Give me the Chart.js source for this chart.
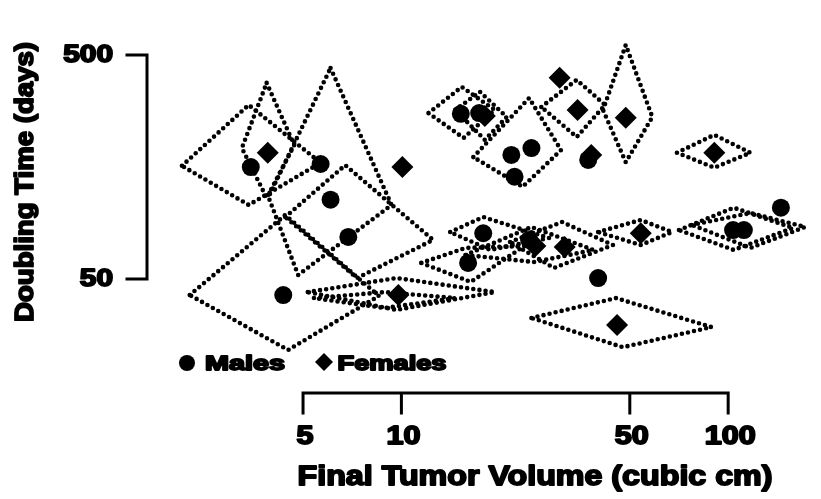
<!DOCTYPE html>
<html>
<head>
<meta charset="utf-8">
<script src="https://cdn.jsdelivr.net/npm/chart.js@4.4.1/dist/chart.umd.min.js"></script>
<style>
  body { margin: 0; background: #fff; }
  #wrap { width: 821px; height: 499px; position: relative; }
</style>
</head>
<body>
<div id="wrap"><canvas id="myChart"></canvas></div>
<script>
// final tumor volume (cubic cm) and doubling time (days)
var maleVol = [3.46, 5.66, 6.07, 6.88, 4.35, 15.2, 17.3, 21.7, 25.0, 22.2, 37.3, 17.8, 16.0, 24.6, 40.0, 103.5, 111.7, 145];
var maleDT = [158, 163, 113, 77, 42.4, 273, 275, 179, 192, 143, 170, 80, 59, 74.7, 50.5, 82.7, 82.7, 104];
var femaleVol = [3.9, 10.07, 9.79, 18.0, 30.5, 34.6, 38.1, 48.6, 90.7, 54.0, 45.7, 31.6, 25.7];
var femaleDT = [183, 158, 42.4, 267, 395, 284, 179, 262, 183, 80, 31.2, 69.5, 70.2];

// dotted uncertainty regions, four corners each as [volume, days]
var regions = [
  [[2.13, 160], [3.41, 299], [5.66, 165], [3.41, 107]],
  [[3.87, 375], [4.70, 198], [3.87, 115], [3.25, 192]],
  [[6.07, 437], [9.33, 107], [4.83, 52.1], [3.92, 116]],
  [[2.25, 42.4], [4.41, 96.5], [8.53, 42.0], [4.50, 24.1]],
  [[4.41, 94.5], [6.73, 161], [12.5, 74.7], [7.32, 50.5]],
  [[5.17, 43.7], [9.66, 50.5], [19.3, 43.7], [9.66, 36.4]],
  [[5.4, 41.1], [8.9, 43.7], [14.6, 41.1], [8.9, 37.1]],
  [[12.1, 275], [15.3, 360], [19.3, 284], [15.5, 213]],
  [[14.6, 284], [17.4, 342], [21.0, 264], [18.0, 209]],
  [[16.6, 175], [24.6, 321], [30.8, 188], [23.5, 129]],
  [[26.8, 293], [34.4, 387], [42.0, 299], [34.4, 215]],
  [[41.4, 284], [48.6, 554], [58.6, 264], [48.6, 166]],
  [[69.7, 183], [90.7, 220], [117, 183], [90.7, 157]],
  [[14.1, 81.0], [17.8, 94.5], [28.3, 76.2], [18.7, 67.4]],
  [[11.5, 59.0], [15.7, 68.8], [23.8, 70.2], [16.3, 48.5]],
  [[21.5, 73.1], [31.0, 89.8], [44.4, 70.9], [29.3, 56.0]],
  [[15.7, 64.0], [25.0, 85.3], [38.7, 67.4], [25.5, 59.5]],
  [[40.0, 81.0], [54.0, 91.7], [67.3, 81.0], [54.0, 70.9]],
  [[70.7, 82.7], [104, 104], [158, 84.5], [104, 67.4]],
  [[77.4, 87.1], [117, 98.5], [172, 85.3], [117, 68.8]],
  [[25.0, 33.5], [45.4, 41.1], [88.9, 30.5], [47.6, 24.8]]
];

var xTicks = [5, 10, 50, 100];
var yTicks = [50, 500];

var font = '"Liberation Sans", Arial, sans-serif';

function toPoints(xs, ys) {
  return xs.map(function(x, i) { return {x: x, y: ys[i]}; });
}

var datasets = regions.map(function(r) {
  var pts = r.map(function(p) { return {x: p[0], y: p[1]}; });
  pts.push(pts[0]);
  return {
    type: 'line',
    data: pts,
    borderColor: '#000',
    borderWidth: 4.6,
    borderDash: [0, 6.2],
    borderCapStyle: 'round',
    pointRadius: 0,
    fill: false,
    tension: 0,
    clip: false
  };
});

datasets.push({
  label: 'Males',
  data: toPoints(maleVol, maleDT),
  pointStyle: 'circle',
  pointRadius: 9,
  backgroundColor: '#000',
  borderColor: '#000',
  borderWidth: 0,
  clip: false
});
datasets.push({
  label: 'Females',
  data: toPoints(femaleVol, femaleDT),
  pointStyle: 'rectRot',
  pointRadius: 11,
  backgroundColor: '#000',
  borderColor: '#000',
  borderWidth: 0,
  clip: false
});

// text squeezed or stretched to the width it has in the figure
function fitText(ctx, text, cx, cy, width, size, rot) {
  ctx.save();
  ctx.font = 'bold ' + size + 'px ' + font;
  var w = ctx.measureText(text).width;
  ctx.translate(cx, cy);
  if (rot) ctx.rotate(rot);
  ctx.scale(width / w, 1);
  ctx.textAlign = 'center';
  ctx.textBaseline = 'middle';
  ctx.fillStyle = '#000';
  ctx.strokeStyle = '#000';
  ctx.lineWidth = 1.8;
  ctx.lineJoin = 'round';
  ctx.fillText(text, 0, 0);
  ctx.strokeText(text, 0, 0);
  ctx.restore();
}

var rAxes = {
  id: 'rAxes',
  afterDraw: function(chart) {
    var ctx = chart.ctx;
    var xs = chart.scales.x, ys = chart.scales.y;
    ctx.save();
    ctx.strokeStyle = '#000';
    ctx.lineWidth = 3;
    ctx.lineCap = 'square';

    // y axis
    var ax = 147;
    var yTop = ys.getPixelForValue(yTicks[yTicks.length - 1]);
    var yBot = ys.getPixelForValue(yTicks[0]);
    ctx.beginPath();
    ctx.moveTo(ax, yTop);
    ctx.lineTo(ax, yBot);
    yTicks.forEach(function(t) {
      var p = ys.getPixelForValue(t);
      ctx.moveTo(ax, p);
      ctx.lineTo(ax - 20, p);
    });
    ctx.stroke();
    yTicks.forEach(function(t) {
      var p = ys.getPixelForValue(t);
      var s = String(t);
      fitText(ctx, s, 113 - s.length * 8.3, p, s.length * 16.6, 24);
    });

    // x axis
    var ay = 393;
    var xL = xs.getPixelForValue(xTicks[0]);
    var xR = xs.getPixelForValue(xTicks[xTicks.length - 1]);
    ctx.beginPath();
    ctx.moveTo(xL, ay);
    ctx.lineTo(xR, ay);
    xTicks.forEach(function(t) {
      var p = xs.getPixelForValue(t);
      ctx.moveTo(p, ay);
      ctx.lineTo(p, ay + 20);
    });
    ctx.stroke();
    xTicks.forEach(function(t) {
      var p = xs.getPixelForValue(t);
      var s = String(t);
      fitText(ctx, s, p + 2, 437, s.length * 17, 25);
    });

    // titles
    fitText(ctx, 'Final Tumor Volume (cubic cm)', 535, 478, 475, 27);
    fitText(ctx, 'Doubling Time (days)', 26, 182, 280, 26, -Math.PI / 2);

    // legend
    ctx.fillStyle = '#000';
    ctx.beginPath();
    ctx.arc(187, 363, 8, 0, Math.PI * 2);
    ctx.fill();
    fitText(ctx, 'Males', 245, 364, 80, 20);
    ctx.beginPath();
    ctx.moveTo(324, 353);
    ctx.lineTo(333, 362);
    ctx.lineTo(324, 371);
    ctx.lineTo(315, 362);
    ctx.closePath();
    ctx.fill();
    fitText(ctx, 'Females', 392, 364, 109, 20);
    ctx.restore();
  }
};

var chart = new Chart(document.getElementById('myChart').getContext('2d'), {
  type: 'scatter',
  data: { datasets: datasets },
  options: {
    responsive: true,
    maintainAspectRatio: false,
    animation: false,
    layout: { padding: { left: 173, right: 1, top: 30, bottom: 139 } },
    plugins: { legend: { display: false }, tooltip: { enabled: false } },
    scales: {
      x: { type: 'logarithmic', min: 2, max: 178, display: false },
      y: { type: 'logarithmic', min: 21.75, max: 646, display: false }
    }
  },
  plugins: [rAxes]
});
</script>
</body>
</html>
